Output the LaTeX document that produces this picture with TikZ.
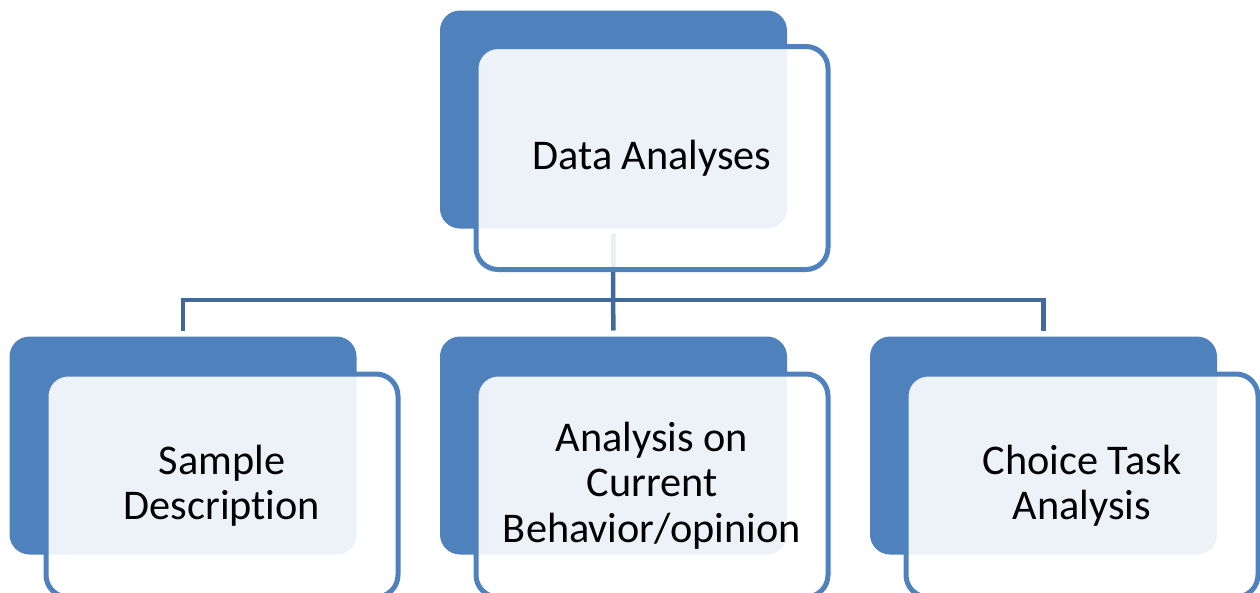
\documentclass[tikz,border=0pt]{standalone}
\usepackage{fontspec}
\setmainfont[Ligatures={NoCommon,NoRare,NoDiscretionary}]{Carlito}
\definecolor{accent}{HTML}{4F81BD}
\definecolor{linkblue}{HTML}{41699B}
\tikzset{
  backbox/.style={rounded corners=20pt, fill=accent, draw=none,
    minimum width=347pt, minimum height=218pt, inner sep=0pt, outer sep=0pt},
  frontbox/.style={rounded corners=22pt, draw=accent, line width=5pt,
    fill=white, fill opacity=0.9, text opacity=1,
    minimum width=352pt, minimum height=223pt, inner sep=0pt, outer sep=0pt,
    align=center, font=\fontsize{42.3}{45.5}\selectfont},
  conn/.style={draw=linkblue, line width=4.5pt}
}
\begin{document}
\begin{tikzpicture}[x=1pt, y=-1pt]
  \useasboundingbox (0,0) rectangle (1260,592);
  \clip (0,0) rectangle (1260,592);

  % back panels
  \node[backbox] (topback) at (613.5,119.5) {};
  \node[backbox] (sampleback) at (183,445.5) {};
  \node[backbox] (currentback) at (613.5,445.5) {};
  \node[backbox] (choiceback) at (1043.5,445.5) {};

  % connectors
  \coordinate (hub) at (613,300);
  \draw[conn] ([yshift=-5pt]topback.south) -- (hub);
  \draw[conn] ([yshift=6pt]sampleback.north) |- (hub) -| ([yshift=6pt]choiceback.north);
  \draw[conn] (hub) -- ([yshift=6pt]currentback.north);

  % front panels with labels
  \node[frontbox] (top) at (652,158) {Data Analyses};
  \node[frontbox] (sample) at (222,485.5) {Sample\\Description};
  \node[frontbox] (current) at (652,485.5) {Analysis on\\Current\\Behavior/opinion};
  \node[frontbox] (choice) at (1082,485.5) {Choice Task\\Analysis};
\end{tikzpicture}
\end{document}
